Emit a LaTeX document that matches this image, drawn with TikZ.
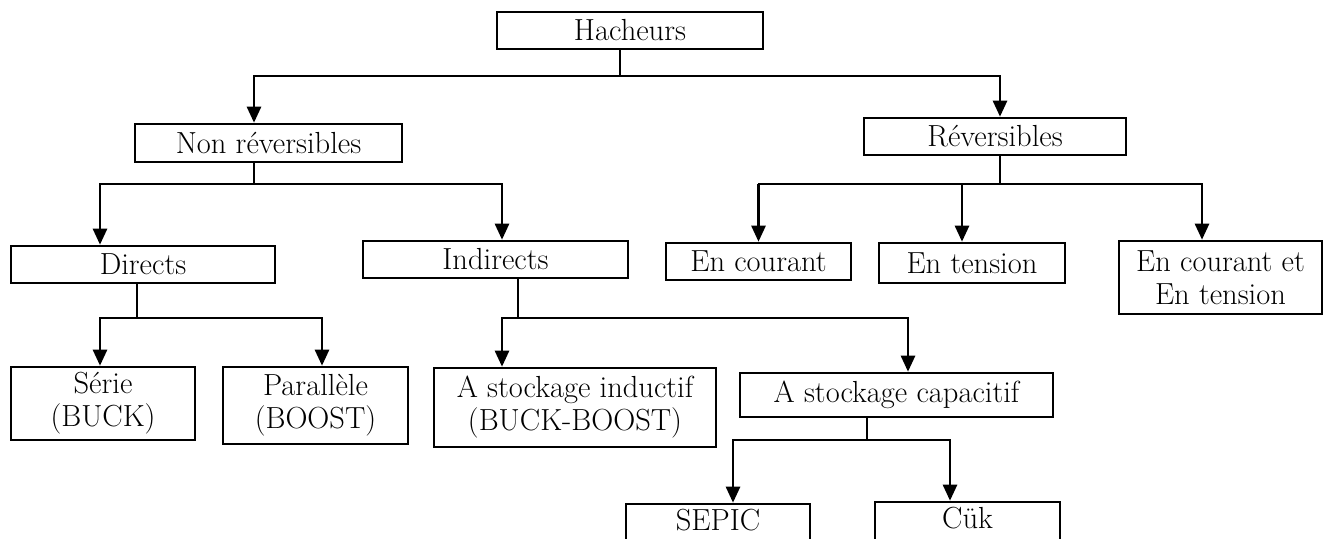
\documentclass[tikz,border=0pt]{standalone}
\usetikzlibrary{arrows.meta}
\begin{document}
\begin{tikzpicture}[x=1pt,y=-1pt,
  txt/.style={font=\fontsize{30.5}{33}\selectfont},
  box/.style={draw, line width=2.6pt, inner sep=0pt, align=center, txt},
  hl/.style={line width=2pt, line cap=rect},
  arr/.style={line width=2.6pt, -{Triangle[width=14pt,length=16pt]}}]
\useasboundingbox (0,0) rectangle (1327,538);
\clip (0,0) rectangle (1327,538);
% boxes
\node[box, minimum width=266, minimum height=37] (hach) at (630,30.5) {Hacheurs};
\node[box, minimum width=267, minimum height=38] (nonrev) at (268.5,143) {Non réversibles};
\node[box, minimum width=262, minimum height=37] (rev) at (995,136.5) {Réversibles};
\node[box, minimum width=264, minimum height=37] (dir) at (143,264.5) {Directs};
\node[box, minimum width=265, minimum height=37] (ind) at (495.5,259.5) {Indirects};
\node[box, minimum width=185, minimum height=37] (cour) at (758.5,261.5) {En courant};
\node[box, minimum width=186, minimum height=40] (tens) at (972,263) {En tension};
\node[box, minimum width=203, minimum height=73] (both) at (1220.5,277.5) {En courant et\\En tension};
\node[box, minimum width=184, minimum height=73] (serie) at (103,403.5) {Série\\(BUCK)};
\node[box, minimum width=185, minimum height=77] (para) at (315.5,405.5) {Parallèle\\(BOOST)};
\node[box, minimum width=282, minimum height=79] (induct) at (575,407.5) {A stockage inductif\\(BUCK-BOOST)};
\node[box, minimum width=313, minimum height=44] (capa) at (896.5,395) {A stockage capacitif};
\node[box, minimum width=184, minimum height=56,
  label={[txt, anchor=base, yshift=-28pt]north:SEPIC}] (sepic) at (718,532) {};
\node[box, minimum width=185, minimum height=58,
  label={[txt, anchor=base, yshift=-28pt]north:Cük}] (cuk) at (967.5,531) {};
% junction levels
\coordinate (j1) at (0,76);
\coordinate (j2) at (0,184);
\coordinate (j4) at (0,318);
\coordinate (j6) at (0,440);
% Hacheurs
\draw[hl] ([xshift=-10pt]hach.south) -- ([xshift=-10pt]hach.south |- j1);
\draw[hl] ([xshift=-14.5pt]nonrev.north |- j1) -- ([xshift=5pt]rev.north |- j1);
\draw[arr] ([xshift=-14.5pt]nonrev.north |- j1) -- ([xshift=-14.5pt]nonrev.north);
\draw[arr] ([xshift=5pt]rev.north |- j1) -- ([xshift=5pt]rev.north);
% Non reversibles
\draw[hl] ([xshift=-14.5pt]nonrev.south) -- ([xshift=-14.5pt]nonrev.south |- j2);
\draw[hl] ([xshift=-43pt]dir.north |- j2) -- ([xshift=6.5pt]ind.north |- j2);
\draw[arr] ([xshift=-43pt]dir.north |- j2) -- ([xshift=-43pt]dir.north);
\draw[arr] ([xshift=6.5pt]ind.north |- j2) -- ([xshift=6.5pt]ind.north);
% Reversibles
\draw[hl] ([xshift=5pt]rev.south) -- ([xshift=5pt]rev.south |- j2);
\draw[hl] (cour.north |- j2) -- ([xshift=-18.5pt]both.north |- j2);
\draw[arr] (cour.north |- j2) -- (cour.north);
\draw[arr] ([xshift=-10pt]tens.north |- j2) -- ([xshift=-10pt]tens.north);
\draw[arr] ([xshift=-18.5pt]both.north |- j2) -- ([xshift=-18.5pt]both.north);
% Directs
\draw[hl] ([xshift=-6pt]dir.south) -- ([xshift=-6pt]dir.south |- j4);
\draw[hl] ([xshift=-3pt]serie.north |- j4) -- ([xshift=6.5pt]para.north |- j4);
\draw[arr] ([xshift=-3pt]serie.north |- j4) -- ([xshift=-3pt]serie.north);
\draw[arr] ([xshift=6.5pt]para.north |- j4) -- ([xshift=6.5pt]para.north);
% Indirects
\draw[hl] ([xshift=22.5pt]ind.south) -- ([xshift=22.5pt]ind.south |- j4);
\draw[hl] ([xshift=-73pt]induct.north |- j4) -- ([xshift=11.5pt]capa.north |- j4);
\draw[arr] ([xshift=-73pt]induct.north |- j4) -- ([xshift=-73pt]induct.north);
\draw[arr] ([xshift=11.5pt]capa.north |- j4) -- ([xshift=11.5pt]capa.north);
% A stockage capacitif
\draw[hl] ([xshift=-29.5pt]capa.south) -- ([xshift=-29.5pt]capa.south |- j6);
\draw[hl] ([xshift=15pt]sepic.north |- j6) -- ([xshift=-17.5pt]cuk.north |- j6);
\draw[arr] ([xshift=15pt]sepic.north |- j6) -- ([xshift=15pt]sepic.north);
\draw[arr] ([xshift=-17.5pt]cuk.north |- j6) -- ([xshift=-17.5pt]cuk.north);
\end{tikzpicture}
\end{document}
